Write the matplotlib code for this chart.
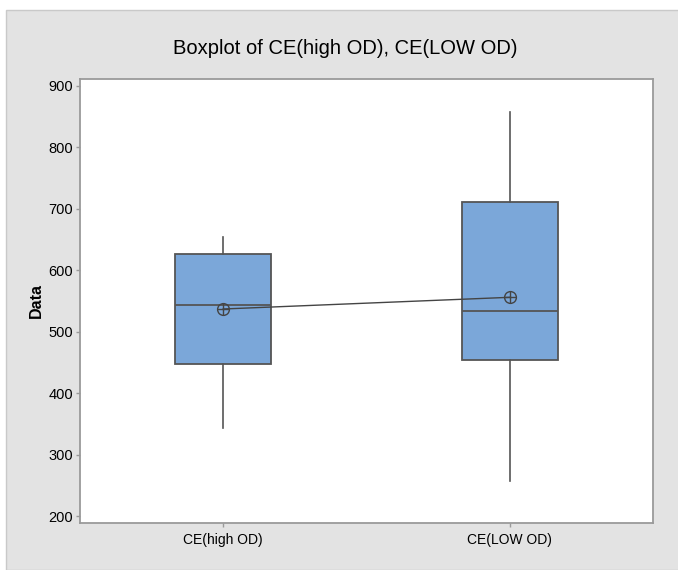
import numpy as np
import matplotlib.pyplot as plt
from matplotlib.patches import Rectangle

# summary statistics for each column
labels = ["CE(high OD)", "CE(LOW OD)"]
whisk_lo = [343, 257]
q1 = [447, 454]
med = [543, 533]
q3 = [626, 711]
whisk_hi = [654, 857]
means = [537, 556]

plt.rcParams['font.family'] = ['Liberation Sans', 'DejaVu Sans']

fig = plt.figure(figsize=(6.78, 5.7), dpi=100, facecolor="white")
# grey panel behind the plot
fig.patches.append(Rectangle((6 / 678, 0), 1, 1 - 10 / 570, transform=fig.transFigure,
                             facecolor="#e3e3e3", edgecolor="#c9c9c9", lw=1.0, zorder=-10))

ax = fig.add_axes([80 / 678, 47 / 570, 573 / 678, 444 / 570])
ax.set_facecolor("white")

stats = []
for i in range(len(labels)):
    stats.append(dict(label=labels[i], whislo=whisk_lo[i], q1=q1[i], med=med[i],
                      q3=q3[i], whishi=whisk_hi[i], fliers=[]))

pos = np.arange(1, len(labels) + 1)
ax.bxp(stats, positions=pos, widths=0.336, patch_artist=True, showcaps=False,
       boxprops=dict(facecolor="#7ba7d9", edgecolor="#555555", lw=1.3),
       medianprops=dict(color="#555555", lw=1.3),
       whiskerprops=dict(color="#555555", lw=1.2))

# connect the means
ax.plot(pos, means, color="#444444", lw=1.0, zorder=5)
ax.plot(pos, means, ls="none", marker="o", ms=8.5, mfc="none", mec="#444444", mew=1.0, zorder=6)
ax.plot(pos, means, ls="none", marker="+", ms=8.5, mec="#444444", mew=1.0, zorder=6)

ax.set_xlim(0.5, 2.5)
ax.set_ylim(189, 911)
ax.set_yticks(np.arange(200, 901, 100))
ax.set_xticks(pos)
ax.set_xticklabels(labels)

for s in ax.spines.values():
    s.set_color("#9a9a9a")
    s.set_linewidth(1.3)
ax.tick_params(axis="both", colors="#9a9a9a", length=3, width=1, labelcolor="black")
ax.tick_params(axis="x", pad=4, labelsize=10)
ax.tick_params(axis="y", pad=2, labelsize=10.5)

ax.set_ylabel("Data", fontsize=11.5, fontweight="bold", labelpad=3)
fig.text(345 / 678, 1 - 48 / 570, "Boxplot of CE(high OD), CE(LOW OD)", ha="center",
         va="center", fontsize=14.5)

fig.savefig("out.png", dpi=100, facecolor=fig.get_facecolor())
